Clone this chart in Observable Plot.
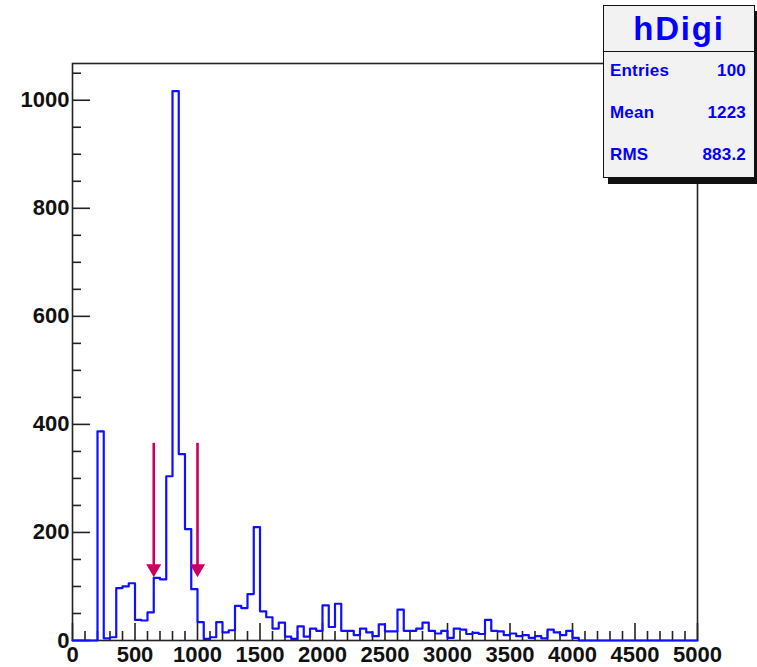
<!DOCTYPE html>
<html>
<head>
<meta charset="utf-8">
<script src="https://cdn.jsdelivr.net/npm/d3@7"></script>
<script src="https://cdn.jsdelivr.net/npm/@observablehq/plot@0.6"></script>
<style>
  html, body { margin: 0; padding: 0; background: #fff; }
  #wrap { position: relative; width: 757px; height: 667px; font-family: "Liberation Sans", Arial, Helvetica, sans-serif; }
  #stats { position: absolute; left: 603px; top: 5px; width: 152px; height: 173px; background: #f2f2f2;
           border: 1.5px solid #111; box-shadow: 5px 6px 0 #111; box-sizing: border-box; color: #0000ff; font-weight: bold; }
  #stats .title { position: absolute; left: 0; right: 0; top: 1px; height: 44px; text-align: center; font-size: 33px; letter-spacing: 1.8px; line-height: 44px; border-bottom: 1.5px solid #111; }
  #stats .row { position: absolute; left: 6px; right: 8px; font-size: 17px; letter-spacing: 0.2px; }
  #stats .row .v { position: absolute; right: 0; top: 0; }
</style>
</head>
<body>
<div id="wrap">
  <div id="chart"></div>
  <div id="stats"></div>
</div>
<script>
// ---- data ----
const histName = "hDigi";
const binWidth = 50;
const xMin = 0, xMax = 5000;
const counts = [
  0, 0, 0, 0, 387, 4, 6, 97, 100, 106,
  38, 37, 52, 116, 113, 304, 1017, 345, 206, 95,
  34, 3, 6, 34, 15, 19, 64, 60, 86, 210,
  54, 43, 22, 33, 7, 3, 26, 7, 22, 18,
  65, 25, 68, 18, 18, 10, 22, 15, 8, 30,
  17, 17, 57, 18, 18, 22, 33, 18, 13, 18,
  5, 22, 20, 12, 14, 12, 38, 18, 17, 10,
  13, 8, 10, 5, 8, 4, 20, 15, 10, 18,
  5, 0, 0, 0, 0, 0, 0, 0, 0, 0,
  0, 0, 0, 0, 0, 0, 0, 0, 0, 0
];
const yMax = 1068;
const xTicks = [0, 500, 1000, 1500, 2000, 2500, 3000, 3500, 4000, 4500, 5000];
const yTicks = [0, 200, 400, 600, 800, 1000];
const statLabels = ["Entries", "Mean", "RMS"];
const statValues = ["100", "1223", "883.2"];
const arrowX = [650, 1000];
const arrowTop = 365;
const arrowTip = 117;

// ---- layout ----
const W = 757, H = 667, mL = 72, mR = 60, mT = 63, mB = 27;
const xPerPx = (xMax - xMin) / (W - mL - mR);
const yPerPx = yMax / (H - mT - mB);

const hist = counts.map((c, i) => ({x: xMin + i * binWidth, y: c}));
hist.push({x: xMax, y: counts[counts.length - 1]});

const xTickMarks = d3.range(xMin, xMax + 1, 100).map(v => ({x: v, len: (xTicks.includes(v) ? 17 : 9) * yPerPx}));
const yTickMarks = d3.range(0, yMax, 50).map(v => ({y: v, len: (yTicks.includes(v) ? 18 : 9) * xPerPx}));

const plot = Plot.plot({
  width: W, height: H,
  marginLeft: mL, marginRight: mR, marginTop: mT, marginBottom: mB,
  style: {fontFamily: '"Liberation Sans", Arial, Helvetica, sans-serif', fontWeight: "bold", fontSize: "22px", color: "#111", background: "#fff"},
  x: {domain: [xMin, xMax], label: null},
  y: {domain: [0, yMax], label: null},
  marks: [
    Plot.frame({stroke: "#222", strokeWidth: 1.6}),
    Plot.ruleX(xTickMarks, {x: "x", y1: 0, y2: "len", stroke: "#222", strokeWidth: 1.6}),
    Plot.ruleY(yTickMarks, {y: "y", x1: xMin, x2: d => xMin + d.len, stroke: "#222", strokeWidth: 1.6}),
    Plot.axisX({ticks: xTicks, tickSize: 0, tickPadding: 6, label: null, tickFormat: d => String(d), fontSize: 22, fontWeight: "bold", letterSpacing: 0.3}),
    Plot.axisY({ticks: yTicks, tickSize: 0, tickPadding: 3, label: null, tickFormat: d => String(d), fontSize: 22, fontWeight: "bold", letterSpacing: 3.2}),
    Plot.line(hist, {x: "x", y: "y", curve: "step-after", stroke: "#1010ff", strokeWidth: 2.2}),
    Plot.ruleX(arrowX, {x: d => d, y1: arrowTip + 10 * yPerPx, y2: arrowTop, stroke: "#c8005f", strokeWidth: 2.6}),
    Plot.dot(arrowX, {x: d => d, y: arrowTip, symbol: "triangle", rotate: 180, r: 5.6, fill: "#c8005f", stroke: "none", dy: -8.7})
  ]
});
document.getElementById("chart").appendChild(plot);

// ---- stats box ----
const stats = document.getElementById("stats");
const t = document.createElement("div");
t.className = "title"; t.textContent = histName;
stats.appendChild(t);
const rowTops = [55, 97, 139];
statLabels.forEach((lab, i) => {
  const r = document.createElement("div");
  r.className = "row"; r.style.top = rowTops[i] + "px";
  r.innerHTML = `<span>${lab}</span><span class="v">${statValues[i]}</span>`;
  stats.appendChild(r);
});
</script>
</body>
</html>
